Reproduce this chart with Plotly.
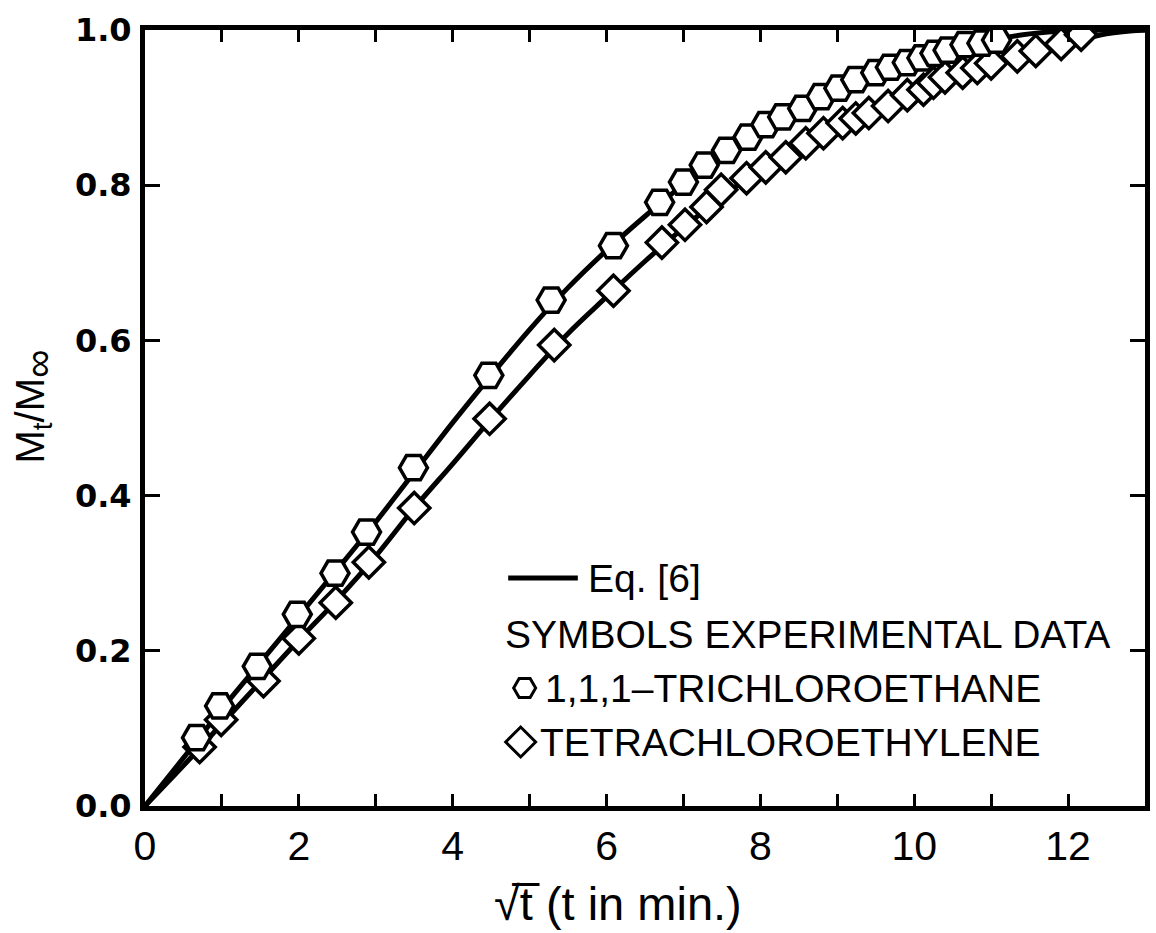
import plotly.graph_objects as go

tri_x = [0.67, 0.97, 1.46, 1.98, 2.47, 2.88, 3.49, 4.47, 5.28, 6.09, 6.69, 7.00, 7.27, 7.56,
         7.84, 8.07, 8.29, 8.55, 8.79, 9.02, 9.24, 9.50, 9.69, 9.91, 10.10, 10.27, 10.44,
         10.66, 10.88, 11.07]
tri_y = [0.088, 0.129, 0.180, 0.247, 0.300, 0.353, 0.436, 0.555, 0.652, 0.722, 0.778, 0.804,
         0.826, 0.845, 0.862, 0.878, 0.888, 0.899, 0.914, 0.925, 0.936, 0.945, 0.952, 0.958,
         0.964, 0.970, 0.974, 0.981, 0.983, 0.987]

tet_x = [0.71, 0.99, 1.54, 2.00, 2.48, 2.91, 3.50, 4.48, 5.32, 6.09, 6.72, 7.02, 7.30, 7.49,
         7.82, 8.07, 8.33, 8.59, 8.82, 9.07, 9.24, 9.41, 9.66, 9.91, 10.12, 10.25, 10.40,
         10.63, 10.82, 11.00, 11.34, 11.58, 11.91, 12.17]
tet_y = [0.076, 0.111, 0.161, 0.216, 0.262, 0.314, 0.384, 0.499, 0.594, 0.664, 0.726, 0.749,
         0.772, 0.794, 0.809, 0.823, 0.836, 0.854, 0.867, 0.880, 0.886, 0.893, 0.902, 0.916,
         0.923, 0.932, 0.939, 0.945, 0.951, 0.957, 0.966, 0.973, 0.982, 0.994]

# Eq. [6] curves
eq_tri_x = [0, 0.5, 1, 1.5, 2, 2.5, 3, 3.5, 4, 4.5, 5, 5.5, 6, 6.5, 7, 7.5, 8, 8.5, 9, 9.5,
            10, 10.5, 11, 11.5, 12, 13]
eq_tri_y = [0, 0.062, 0.125, 0.185, 0.245, 0.305, 0.366, 0.430, 0.494, 0.555, 0.614, 0.668,
            0.716, 0.760, 0.801, 0.840, 0.872, 0.900, 0.924, 0.944, 0.961, 0.975, 0.987,
            0.995, 0.999, 1.0]
eq_tet_x = [0, 0.5, 1, 1.5, 2, 2.5, 3, 3.5, 4, 4.5, 5, 5.5, 6, 6.5, 7, 7.5, 8, 8.5, 9, 9.5,
            10, 10.5, 11, 11.5, 12, 12.5, 13]
eq_tet_y = [0, 0.052, 0.106, 0.160, 0.214, 0.266, 0.322, 0.384, 0.441, 0.499, 0.555, 0.609,
            0.656, 0.702, 0.745, 0.785, 0.820, 0.851, 0.878, 0.901, 0.922, 0.941, 0.957,
            0.970, 0.983, 0.995, 1.0]

x_ticks = [0, 2, 4, 6, 8, 10, 12]
x_minor = list(range(0, 14))
y_ticks = [0.0, 0.2, 0.4, 0.6, 0.8, 1.0]
y_labels = ["0.0", "0.2", "0.4", "0.6", "0.8", "1.0"]

fig = go.Figure()
for cx, cy in [(eq_tri_x, eq_tri_y), (eq_tet_x, eq_tet_y)]:
    fig.add_trace(go.Scatter(x=cx, y=cy, mode="lines", line=dict(color="black", width=5),
                             line_shape="spline", showlegend=False))

fig.add_trace(go.Scatter(x=tet_x, y=tet_y, mode="markers", showlegend=False,
                         marker=dict(symbol="diamond", size=24, color="white",
                                     line=dict(color="black", width=3.5))))
fig.add_trace(go.Scatter(x=tri_x, y=tri_y, mode="markers", showlegend=False,
                         marker=dict(symbol="hexagon2", size=28, color="white",
                                     line=dict(color="black", width=3.5))))

# legend drawn in paper coords
fig.add_shape(type="line", xref="paper", yref="paper", x0=(510-145)/1005, x1=(580-145)/1005,
              y0=(806-578)/776, y1=(806-578)/776, line=dict(color="black", width=5))
fig.add_trace(go.Scatter(x=[(527-145)/77.4], y=[(806-688)/776], mode="markers", showlegend=False,
                         marker=dict(symbol="hexagon2", size=22, color="white",
                                     line=dict(color="black", width=3))))
fig.add_trace(go.Scatter(x=[(523-145)/77.4], y=[(806-742)/776], mode="markers", showlegend=False,
                         marker=dict(symbol="diamond", size=23, color="white",
                                     line=dict(color="black", width=3))))

lfont = dict(family="Liberation Sans, Arial", size=39, color="black")
def ann(text, px, py, anchor="left", font=lfont, **kw):
    fig.add_annotation(text=text, xref="paper", yref="paper",
                       x=(px-145)/1005, y=(806-py)/776, xanchor=anchor, yanchor="middle",
                       showarrow=False, font=font, **kw)

ann("Eq. [6]", 588, 578)
ann("SYMBOLS EXPERIMENTAL DATA", 505, 634)
ann("1,1,1\u2013TRICHLOROETHANE", 545, 688)
ann("TETRACHLOROETHYLENE", 540, 742)
ann("\u221at\u0305 (t in min.)", 620, 903, anchor="center",
    font=dict(family="Liberation Sans, Arial", size=47, color="black"))
fig.add_annotation(text="M<sub>t</sub>/M<sub><span style='font-size:40px'>\u221e</span></sub>",
                   xref="paper", yref="paper",
                   x=(33-145)/1005, y=(806-407)/776, xanchor="center", yanchor="middle",
                   textangle=-90, showarrow=False,
                   font=dict(family="Liberation Sans, Arial", size=40, color="black"))

fig.update_xaxes(range=[0, 13], tickvals=x_ticks, ticks="inside",
                 ticklen=12, tickwidth=3, tickcolor="black", showline=True, linecolor="black",
                 linewidth=5, mirror="ticks", showgrid=False, zeroline=False,
                 minor=dict(tickvals=x_minor, ticks="inside", ticklen=12, tickwidth=3,
                            tickcolor="black", showgrid=False),
                 tickfont=dict(family="Liberation Sans, Arial", size=41, color="black"),
                 ticklabelstandoff=0)
fig.update_yaxes(range=[0, 1.0], tickvals=y_ticks, ticktext=y_labels, ticks="inside",
                 ticklen=15, tickwidth=3, tickcolor="black", showline=True, linecolor="black",
                 linewidth=5, mirror="ticks", showgrid=False, zeroline=False,
                 tickfont=dict(family="DejaVu Sans", size=32, color="black", weight="bold"),
                 ticklabelstandoff=2)

fig.update_layout(width=1156, height=933, margin=dict(l=145, r=6, t=30, b=127),
                  plot_bgcolor="white", paper_bgcolor="white")
fig.write_html("out.html")
